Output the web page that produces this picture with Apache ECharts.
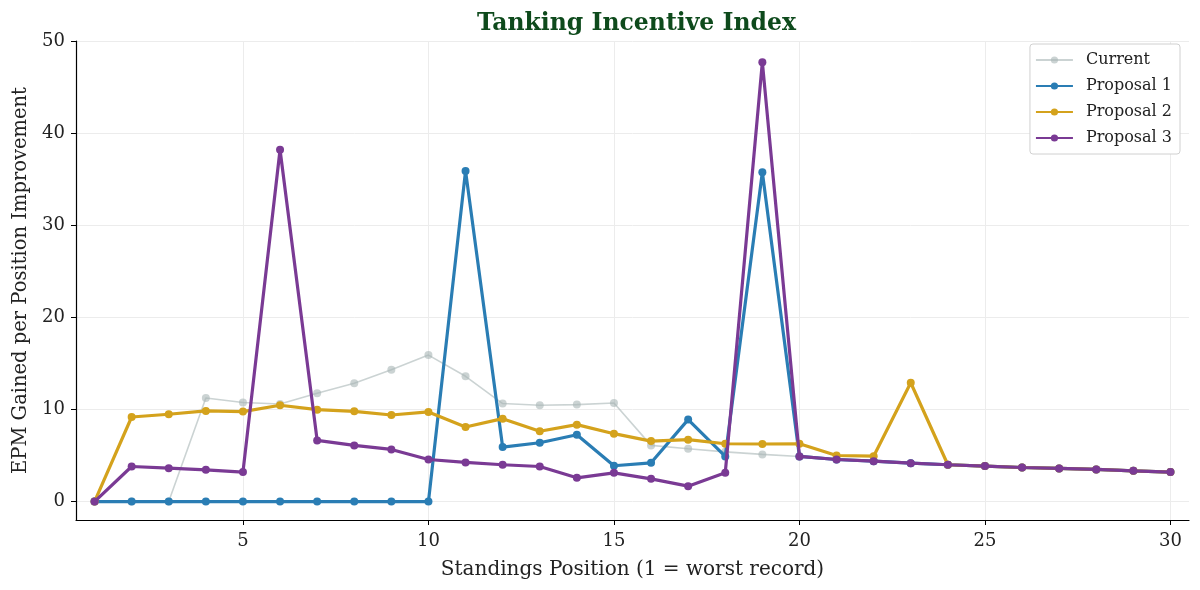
<!DOCTYPE html>
<html>
<head>
<meta charset="utf-8">
<script src="https://cdn.jsdelivr.net/npm/echarts@6/dist/echarts.min.js"></script>
<style>html,body{margin:0;padding:0;background:#fff}#c{width:1200px;height:590px}</style>
</head>
<body>
<div id="c"></div>
<script>
const positions = [1,2,3,4,5,6,7,8,9,10,11,12,13,14,15,16,17,18,19,20,21,22,23,24,25,26,27,28,29,30];
const current   = [0,0,0,11.25,10.75,10.6,11.76,12.85,14.3,15.9,13.6,10.64,10.46,10.53,10.7,6.1,5.74,5.4,5.12,4.9,4.57,4.39,4.17,4.0,3.85,3.7,3.6,3.49,3.34,3.2];
const proposal1 = [0,0,0,0,0,0,0,0,0,0,35.9,5.92,6.39,7.26,3.89,4.21,8.9,4.9,35.76,4.9,4.57,4.39,4.17,4.0,3.85,3.7,3.6,3.49,3.34,3.2];
const proposal2 = [0,9.18,9.48,9.84,9.77,10.46,9.98,9.8,9.4,9.73,8.1,9.0,7.63,8.35,7.37,6.57,6.72,6.28,6.25,6.28,5.0,4.93,12.9,4.0,3.85,3.7,3.6,3.49,3.34,3.2];
const proposal3 = [0,3.81,3.63,3.45,3.2,38.2,6.64,6.1,5.66,4.57,4.25,4.0,3.81,2.58,3.12,2.47,1.67,3.12,47.7,4.9,4.57,4.39,4.17,4.0,3.85,3.7,3.6,3.49,3.34,3.2];
const xTicks = [5,10,15,20,25,30];
const yTicks = [0,10,20,30,40,50];

const pair = arr => positions.map((p,i)=>[p,arr[i]]);
const font = 'DejaVu Serif';

const chart = echarts.init(document.getElementById('c'), null, {renderer:'canvas'});
function mk(name, data, color, lw, size, opacity, z){
  return {
    name, type:'line', data: pair(data), symbol:'circle', symbolSize:size,
    lineStyle:{color, width:lw, opacity}, itemStyle:{color, opacity},
    z, animation:false, emphasis:{disabled:true}
  };
}
chart.setOption({
  animation:false,
  title:{text:'Tanking Incentive Index', left:472, top:7,
    textStyle:{fontFamily:font, fontSize:23.5, fontWeight:'bold', color:'#0e4a1c'}},
  grid:{left:76, right:11, top:41, bottom:70, containLabel:false, outerBoundsMode:'none'},
  legend:{
    orient:'vertical', right:20, top:44,
    itemWidth:37, itemHeight:9, itemGap:10,
    padding:[8,8,8,5],
    borderColor:'#d0d0d0', borderWidth:1, borderRadius:3, backgroundColor:'#fff',
    textStyle:{fontFamily:font, fontSize:16, color:'#222', padding:[0,0,0,8]},
    data:['Current','Proposal 1','Proposal 2','Proposal 3']
  },
  xAxis:{
    type:'value', min:0.5, max:30.5,
    name:'Standings Position (1 = worst record)', nameLocation:'middle', nameGap:40,
    nameTextStyle:{fontFamily:font, fontSize:20, color:'#222'},
    axisLine:{show:true, onZero:false, lineStyle:{color:'#000', width:1.2}},
    axisTick:{show:true, customValues:xTicks, length:5, lineStyle:{color:'#000'}},
    axisLabel:{customValues:xTicks, fontFamily:font, fontSize:18, color:'#222', margin:12},
    splitLine:{show:true, lineStyle:{color:'#ececec', width:1}}
  },
  yAxis:{
    type:'value', min:-2, max:50,
    name:'EPM Gained per Position Improvement', nameLocation:'middle', nameGap:45,
    nameTextStyle:{fontFamily:font, fontSize:19.5, color:'#222'},
    axisLine:{show:true, onZero:false, lineStyle:{color:'#000', width:1.2}},
    axisTick:{show:true, customValues:yTicks, length:5, lineStyle:{color:'#000'}},
    axisLabel:{customValues:yTicks, fontFamily:font, fontSize:18, color:'#222', margin:11},
    splitLine:{show:true, lineStyle:{color:'#ececec', width:1}}
  },
  series:[
    mk('Current', current, '#a9b6b6', 1.6, 8, 0.6, 2),
    mk('Proposal 1', proposal1, '#2a7db4', 3.2, 8, 1, 3),
    mk('Proposal 2', proposal2, '#d4a21c', 3.2, 8, 1, 4),
    mk('Proposal 3', proposal3, '#7a3a94', 3.2, 8, 1, 5)
  ]
});
</script>
</body>
</html>
